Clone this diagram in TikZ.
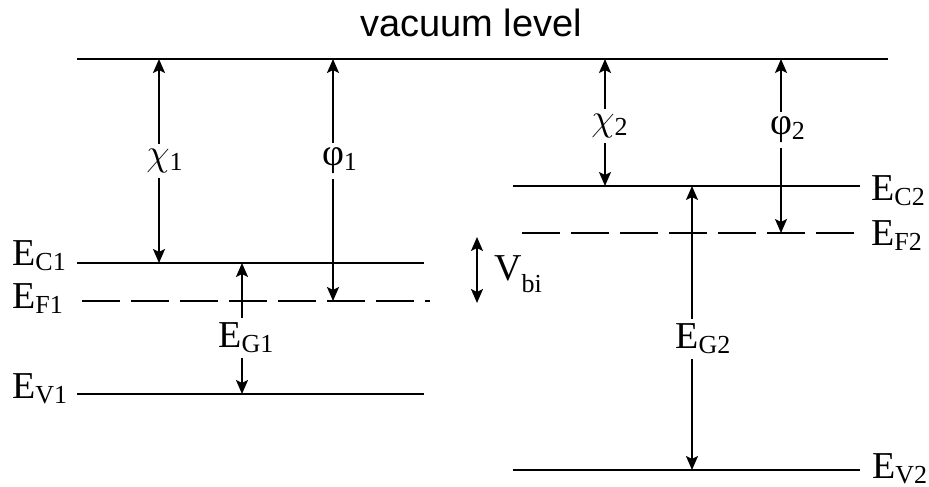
\RequirePackage{fix-cm}
\documentclass[tikz,border=0pt]{standalone}
\usepackage{fontspec}
\setmainfont{Liberation Serif}
\newfontfamily\sansf{Liberation Sans}
\usetikzlibrary{arrows.meta}
\newcommand{\subx}[1]{\raisebox{-5pt}{\fontsize{26}{26}\selectfont #1}}
\newcommand{\lvlname}[1]{E\subx{#1}}
\newcommand{\chiglyph}{\fontsize{38}{38}\selectfont$\chi$}
\begin{document}
\begin{tikzpicture}[x=1pt,y=-1pt,
  tip/.tip={Stealth[length=14pt,width=12pt,inset=3pt]},
  lvl/.style={line width=2pt, line cap=butt},
  dsh/.style={line width=2pt, dash pattern=on 38pt off 11pt},
  arr/.style={line width=2pt, tip-tip},
  lab/.style={inner sep=0pt, font=\fontsize{38}{38}\selectfont},
  gap/.style={lab, fill=white, inner ysep=5pt, inner xsep=1pt}]
\useasboundingbox (0,0) rectangle (929,487);

% vacuum level
\node[inner sep=0pt, anchor=base, font=\sansf\fontsize{38}{38}\selectfont] (vac) at (471,37) {vacuum level};
\coordinate (v1) at (77,59);
\coordinate (v2) at (888,59);
\draw[lvl] (v1) -- (v2);

% left semiconductor levels
\coordinate (c1a) at (77,263);  \coordinate (c1b) at (424,263);
\coordinate (f1a) at (82,301);  \coordinate (f1b) at (430,301);
\coordinate (e1a) at (77,394);  \coordinate (e1b) at (424,394);
\draw[lvl] (c1a) -- (c1b);
\draw[dsh] (f1a) -- (f1b);
\draw[lvl] (e1a) -- (e1b);
\node[lab, anchor=base west] (lc1) at (12,265) {\lvlname{C1}};
\node[lab, anchor=base west] (lf1) at (12,308) {\lvlname{F1}};
\node[lab, anchor=base west] (lv1) at (12,398) {\lvlname{V1}};

% right semiconductor levels
\coordinate (c2a) at (513,186);  \coordinate (c2b) at (860,186);
\coordinate (f2a) at (522,233);  \coordinate (f2b) at (860,233);
\coordinate (e2a) at (513,470);  \coordinate (e2b) at (860,470);
\draw[lvl] (c2a) -- (c2b);
\draw[dsh] (f2a) -- (f2b);
\draw[lvl] (e2a) -- (e2b);
\node[lab, anchor=base west] (lc2) at (871,200) {\lvlname{C2}};
\node[lab, anchor=base west] (lf2) at (871,245) {\lvlname{F2}};
\node[lab, anchor=base west] (lv2) at (872,478) {\lvlname{V2}};

% arrows, left
\coordinate (chi1t) at (159,59);  \coordinate (chi1b) at (159,263);
\draw[arr] (chi1t) -- (chi1b);
\node[gap] (chi1) at (158,161) {\chiglyph\rlap{\subx{1}}};

\coordinate (phi1t) at (333,59);  \coordinate (phi1b) at (333,301);
\draw[arr] (phi1t) -- (phi1b);
\node[gap] (phi1) at (333,161) {φ\rlap{\subx{1}}};

\coordinate (g1t) at (242,263);  \coordinate (g1b) at (242,394);
\draw[arr] (g1t) -- (g1b);
\node[gap] (g1) at (246,338) {\lvlname{G1}};

% arrows, right
\coordinate (chi2t) at (605,59);  \coordinate (chi2b) at (605,186);
\draw[arr] (chi2t) -- (chi2b);
\node[gap] (chi2) at (603,126) {\chiglyph\rlap{\subx{2}}};

\coordinate (phi2t) at (781,59);  \coordinate (phi2b) at (781,233);
\draw[arr] (phi2t) -- (phi2b);
\node[gap] (phi2) at (781,130) {φ\rlap{\subx{2}}};

\coordinate (g2t) at (692,186);  \coordinate (g2b) at (692,470);
\draw[arr] (g2t) -- (g2b);
\node[gap] (g2) at (703,339) {\lvlname{G2}};

% built-in potential
\coordinate (vbt) at (477,237);  \coordinate (vbb) at (477,303);
\draw[arr] (vbt) -- (vbb);
\node[lab, anchor=base west] (vbi) at (494,280) {V\raisebox{-12pt}{\fontsize{26}{26}\selectfont bi}};
\end{tikzpicture}
\end{document}
